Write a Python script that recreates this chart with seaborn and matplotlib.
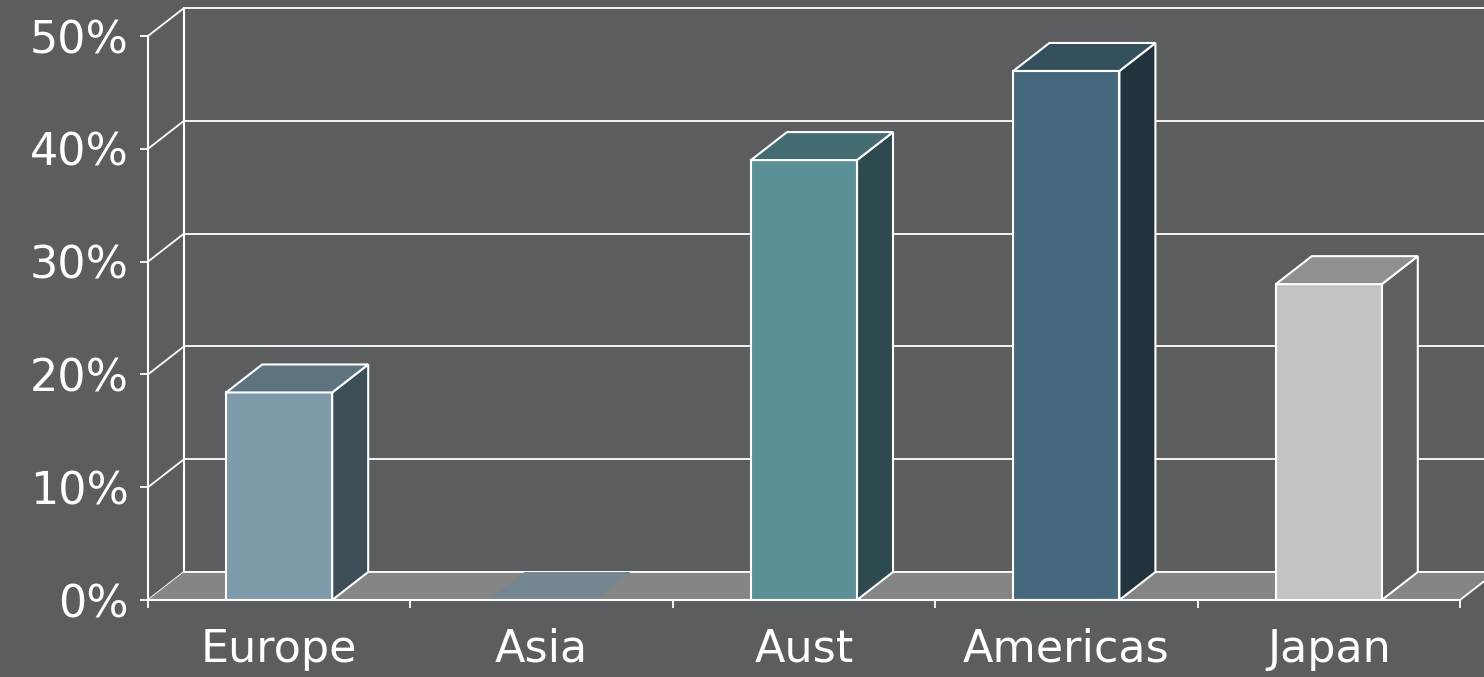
import matplotlib
matplotlib.use("Agg")
import matplotlib.pyplot as plt
import pandas as pd
import seaborn as sns
from matplotlib.patches import Polygon

regions = ["Europe", "Asia", "Aust", "Americas", "Japan"]
shares = [18.4, 0.0, 39.0, 46.9, 28.0]
y_ticks = [0, 10, 20, 30, 40, 50]
y_labels = ["0%", "10%", "20%", "30%", "40%", "50%"]

front_cols = ["#7e9aab", "#74868f", "#5a9096", "#45687c", "#c2c3c5"]
top_cols = ["#5e7380", "#74868f", "#426c71", "#34505e", "#8f918f"]
side_cols = ["#3e4e56", "#3e4e56", "#2d4a4f", "#22333d", "#5e5f61"]

bg = "#5c5d5f"
floor_col = "#858585"
edge = "white"

sns.set_style("dark", {"axes.facecolor": bg, "figure.facecolor": bg})
plt.rcParams["font.family"] = ["DejaVu Sans"]

fig = plt.figure(figsize=(14.84, 6.77), dpi=100)
ax = fig.add_axes([148 / 1484, 77 / 677, 1312 / 1484, 564 / 677])

df = pd.DataFrame({"region": regions, "share": shares})
bar_w = 0.404
sns.barplot(data=df, x="region", y="share", hue="region", palette=front_cols,
            order=regions, width=bar_w, saturation=1, legend=False,
            edgecolor=edge, linewidth=1.5, ax=ax, zorder=5)

ax.set_xlim(-0.5, 4.5)
ax.set_ylim(0, 50)

# depth offset of the pseudo 3d look, in data units
dx = 36 / 262.4
dy = 28 / 11.28

# back wall: grid lines and its left edge
for v in y_ticks:
    ax.plot([-0.5 + dx, 5.0], [v + dy, v + dy], color=edge, lw=1.3,
            clip_on=False, zorder=1)
    ax.plot([-0.5, -0.5 + dx], [v, v + dy], color=edge, lw=1.3,
            clip_on=False, zorder=1)
ax.plot([-0.5 + dx, -0.5 + dx], [dy, 50 + dy], color=edge, lw=1.5,
        clip_on=False, zorder=1)

# floor
floor = Polygon([(-0.5, 0), (4.5, 0), (4.5 + dx, dy), (-0.5 + dx, dy)],
                closed=True, facecolor=floor_col, edgecolor="none",
                clip_on=False, zorder=2)
ax.add_patch(floor)
ax.plot([4.5, 4.5 + dx], [0, dy], color=edge, lw=1.3, clip_on=False, zorder=3)
ax.plot([-0.5 + dx, 5.0], [dy, dy], color=edge, lw=1.3, clip_on=False, zorder=3)

# top and side faces of each bar
for i, v in enumerate(shares):
    x0 = i - bar_w / 2
    x1 = i + bar_w / 2
    if v > 0:
        side = Polygon([(x1, 0), (x1 + dx, dy), (x1 + dx, v + dy), (x1, v)],
                       closed=True, facecolor=side_cols[i], edgecolor=edge,
                       lw=1.5, clip_on=False, zorder=4)
        top = Polygon([(x0, v), (x1, v), (x1 + dx, v + dy), (x0 + dx, v + dy)],
                      closed=True, facecolor=top_cols[i], edgecolor=edge,
                      lw=1.5, clip_on=False, zorder=6)
        ax.add_patch(side)
        ax.add_patch(top)
    else:
        top = Polygon([(x0, 0), (x1, 0), (x1 + dx, dy), (x0 + dx, dy)],
                      closed=True, facecolor=top_cols[i], edgecolor="none",
                      clip_on=False, zorder=4)
        ax.add_patch(top)

# front axes
for s in ["top", "right"]:
    ax.spines[s].set_visible(False)
for s in ["left", "bottom"]:
    ax.spines[s].set_visible(True)
    ax.spines[s].set_color(edge)
    ax.spines[s].set_linewidth(1.5)
    ax.spines[s].set_zorder(7)

ax.set_yticks(y_ticks)
ax.set_yticklabels(y_labels)
ax.set_xticks([i - 0.5 for i in range(6)], minor=False)
ax.set_xticklabels([])
ax.set_xticks(range(5), minor=True)
ax.set_xticklabels(regions, minor=True)
ax.tick_params(axis="x", which="major", direction="out", length=6, width=1.3,
               color=edge, bottom=True)
ax.tick_params(axis="x", which="minor", length=0, pad=20, labelsize=32,
               labelcolor="white")
ax.tick_params(axis="y", direction="out", length=6, width=1.3, color=edge,
               left=True, pad=8, labelsize=32, labelcolor="white")
ax.set_xlabel("")
ax.set_ylabel("")
ax.grid(False)

fig.savefig("out.png", dpi=100, facecolor=bg)
